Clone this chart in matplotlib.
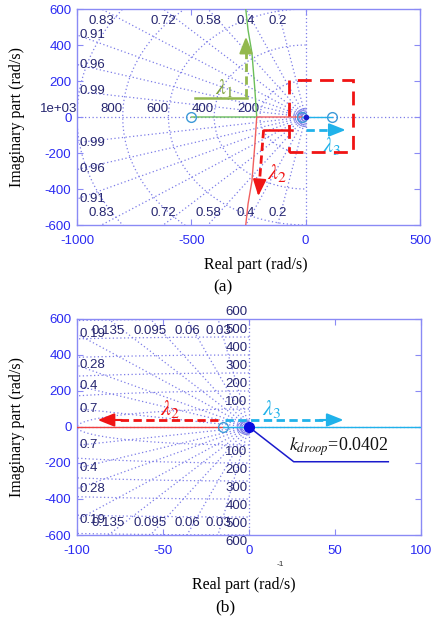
import numpy as np
import matplotlib.pyplot as plt
from matplotlib.path import Path
from matplotlib.patches import Rectangle

plt.rcParams['font.family'] = ['Liberation Sans', 'DejaVu Sans']
plt.rcParams['mathtext.fontset'] = 'stix'
plt.rcParams['axes.unicode_minus'] = False

# ---- grid values (damping ratio lines / natural frequency circles)
zeta_a = [0.2, 0.4, 0.58, 0.72, 0.83, 0.91, 0.96, 0.99]
wn_a = [200, 400, 600, 800, 1000]
wn_a_text = ['200', '400', '600', '800', '1e+03']
zeta_b = [0.03, 0.06, 0.095, 0.135, 0.19, 0.28, 0.4, 0.7]
wn_b = [100, 200, 300, 400, 500, 600]
wn_b_text = ['100', '200', '300', '400', '500', '600']

# ---- root locus branches
lam1_re = [-500, -214, -223, -235, -252, -262]
lam1_im = [0, 0, 167, 356, 483, 600]
lam2_re = [-15, -214, -223, -235, -252, -262]
lam2_im = [0, 0, -167, -356, -483, -600]
lam3_re = [-15, 115]
lam3_im = [0, 0]
zeros_re = [-500, -15, 115]
zeros_im = [0, 0, 0]
kdroop_pt = (0, 0)
kdroop_text = r'$k_{droop}$=0.0402'

# ---- annotation arrows (start, tip)
arr_a = {
    'l1': ((-261, 110), (-261, 446)),
    'l2': ((-184, -72), (-207, -440)),
    'l3': ((0, -72), (175, -72)),
}
bracket_a = {
    'l1': ((-482, 104), (-258, 104)),
    'l2': ((-184, -72), (-60, -72)),
}
label_a = {'l1': (-358, 160), 'l2': (-127, -311), 'l3': (114, -160)}
box_a = (-71, -193, 277, 399)  # x, y, w, h

arr_b = {
    'l2': ((-18, 39), (-88, 39)),
    'l3': ((-14, 39), (55, 39)),
}
label_b = {'l2': (-46, 100), 'l3': (13, 100)}
kdroop_leader_re = [0, 26, 81]
kdroop_leader_im = [0, -193, -193]

GREEN_LINE = '#6cbf5a'
GREEN_ARR = '#93b84e'
RED = '#f01414'
CYAN = '#20b2ea'
GRID_C = '#7c7ce8'
GRID_TXT = '#262670'
TICK_C = '#2a2af2'
SPINE_C = '#8a8af5'
GRID_LS = (0, (1, 2))


def half_arc_marker(aspect):
    t = np.linspace(np.pi / 2, 3 * np.pi / 2, 40)
    return Path(np.column_stack([np.cos(t) * aspect, np.sin(t)]))


def sgrid(ax, zetas, wns, xmin, ymax):
    big = 1e5
    ax.axhline(0, ls=GRID_LS, color=GRID_C, lw=0.9, zorder=1)
    ax.axvline(0, ls=GRID_LS, color=GRID_C, lw=0.9, zorder=1)
    for z in zetas:
        s = np.sqrt(1 - z ** 2)
        for sg in (1, -1):
            ax.plot([0, -z * big], [0, sg * s * big], ls=GRID_LS, color=GRID_C,
                    lw=0.9, zorder=1)
            y_edge = s / z * (-xmin)
            if y_edge < ymax:
                ax.annotate(f'{z:g}', (xmin, sg * y_edge), xytext=(2, 0),
                            textcoords='offset points', ha='left', va='center',
                            color=GRID_TXT, fontsize=9.5, annotation_clip=False)
            else:
                x_edge = -ymax * z / s
                ax.annotate(f'{z:g}', (x_edge, sg * ymax), xytext=(0, -4 * sg),
                            textcoords='offset points', ha='center',
                            va='top' if sg > 0 else 'bottom',
                            color=GRID_TXT, fontsize=9.5, annotation_clip=False)
    th = np.linspace(np.pi / 2, 3 * np.pi / 2, 600)
    for w in wns:
        ax.plot(w * np.cos(th), w * np.sin(th), ls=GRID_LS, color=GRID_C,
                lw=0.9, zorder=1)


def style_axes(ax, xlim, xticks):
    ax.set_xlim(*xlim)
    ax.set_ylim(-600, 600)
    ax.set_xticks(xticks)
    ax.set_yticks(range(-600, 601, 200))
    ax.tick_params(direction='in', top=True, right=True, colors=SPINE_C,
                   labelcolor=TICK_C, labelsize=9.5, length=4, pad=4)
    ax.tick_params(axis='x', pad=7)
    for sp in ax.spines.values():
        sp.set_color(SPINE_C)
        sp.set_linewidth(1.0)
    ax.set_ylabel('Imaginary part (rad/s)', family='Liberation Serif',
                  fontsize=11.5)
    ax.yaxis.set_label_coords(-0.152, 0.5)


def dashed_arrow(ax, start, tip, color):
    (x0, y0), (x1, y1) = start, tip
    ax.plot([x0, x0 + 0.85 * (x1 - x0)], [y0, y0 + 0.85 * (y1 - y0)],
            ls=(0, (3, 1.6)), color=color, lw=2.0, zorder=5)
    ax.annotate('', xy=tip, xytext=(x0 + 0.8 * (x1 - x0), y0 + 0.8 * (y1 - y0)),
                arrowprops=dict(arrowstyle='-|>,head_length=1.0,head_width=0.4',
                                color=color, lw=1.5, shrinkA=0, shrinkB=0),
                zorder=5)


fig = plt.figure(figsize=(4.33, 6.22), dpi=100)
ax_a = fig.add_axes([77 / 433, 1 - 225 / 622, 343 / 433, 216 / 622])
ax_b = fig.add_axes([77 / 433, 1 - 535 / 622, 344 / 433, 216 / 622])

# ---------------- panel (a)
style_axes(ax_a, (-1000, 500), [-1000, -500, 0, 500])
sgrid(ax_a, zeta_a, wn_a, -1000, 600)
for w, t in zip(wn_a, wn_a_text):
    ax_a.annotate(t, (-w, 0), xytext=(0, 1.5), textcoords='offset points',
                  ha='right', va='bottom', color=GRID_TXT, fontsize=9.5,
                  annotation_clip=False)
for ms in [4, 7, 10, 13, 16]:
    ax_a.plot(0, 0, ls='none', marker=half_arc_marker(1.2), ms=ms, mfc='none',
              mec=GRID_C, mew=0.7, zorder=2)

ax_a.plot(lam1_re, lam1_im, color=GREEN_LINE, lw=1.0, zorder=3)
ax_a.plot(lam2_re, lam2_im, color='#f06060', lw=1.0, zorder=3)
ax_a.plot(lam3_re, lam3_im, color=CYAN, lw=1.0, zorder=3)
ax_a.plot(zeros_re, zeros_im, ls='none', marker='o', ms=7, mfc='none',
          mec='#3d9ad8', mew=1.0, zorder=4)
ax_a.plot(*kdroop_pt, ls='none', marker='o', ms=3, color='#1a1acc', zorder=4)

ax_a.plot(*zip(*bracket_a['l1']), color=GREEN_ARR, lw=1.8, zorder=5)
ax_a.plot(*zip(*bracket_a['l2']), color=RED, lw=1.8, zorder=5)
dashed_arrow(ax_a, *arr_a['l1'], GREEN_ARR)
dashed_arrow(ax_a, *arr_a['l2'], RED)
dashed_arrow(ax_a, *arr_a['l3'], CYAN)
ax_a.text(*label_a['l1'], r'$\lambda_1$', color='#7fa23e', fontsize=16,
          ha='center', va='center')
ax_a.text(*label_a['l2'], r'$\lambda_2$', color=RED, fontsize=16,
          ha='center', va='center')
ax_a.text(*label_a['l3'], r'$\lambda_3$', color=CYAN, fontsize=16,
          ha='center', va='center')
ax_a.add_patch(Rectangle(box_a[:2], box_a[2], box_a[3], fill=False,
                         ec=RED, lw=2.0, ls=(0, (5, 3)), zorder=6))
ax_a.set_xlabel('Real part (rad/s)', family='Liberation Serif', fontsize=11.5)
ax_a.xaxis.set_label_coords(0.52, -0.148)
fig.text(223 / 433, 1 - 287 / 622, '(a)', family='Liberation Serif',
         fontsize=12.5, ha='center', va='center')

# ---------------- panel (b)
style_axes(ax_b, (-100, 100), [-100, -50, 0, 50, 100])
sgrid(ax_b, zeta_b, wn_b, -100, 600)
for w, t in zip(wn_b, wn_b_text):
    ax_b.annotate(t, (0, w), xytext=(-1, 1), textcoords='offset points',
                  ha='right', va='bottom', color=GRID_TXT, fontsize=9.5,
                  annotation_clip=False)
    ax_b.annotate(t, (0, -w), xytext=(-1, -1), textcoords='offset points',
                  ha='right', va='top', color=GRID_TXT, fontsize=9.5,
                  annotation_clip=False)
for ms in [5, 8, 11, 14, 17]:
    ax_b.plot(0, 0, ls='none', marker=half_arc_marker(1.6), ms=ms, mfc='none',
              mec=GRID_C, mew=0.7, zorder=2)

ax_b.plot(lam2_re, lam2_im, color='#f04040', lw=1.0, zorder=3)
ax_b.plot(lam3_re, lam3_im, color=CYAN, lw=1.0, zorder=3)
ax_b.plot(zeros_re, zeros_im, ls='none', marker='o', ms=7, mfc='none',
          mec='#3d9ad8', mew=1.0, zorder=4)
ax_b.plot(kdroop_leader_re, kdroop_leader_im, color='#1a1acc', lw=1.1, zorder=4)
ax_b.plot(*kdroop_pt, ls='none', marker='o', ms=7, color='#0a0ae0', zorder=5)
dashed_arrow(ax_b, *arr_b['l2'], RED)
dashed_arrow(ax_b, *arr_b['l3'], CYAN)
ax_b.text(*label_b['l2'], r'$\lambda_2$', color=RED, fontsize=16,
          ha='center', va='center')
ax_b.text(*label_b['l3'], r'$\lambda_3$', color=CYAN, fontsize=16,
          ha='center', va='center')
ax_b.text(52, -112, kdroop_text, family='Liberation Serif', fontsize=13,
          ha='center', va='center', color='#111111', zorder=6)
ax_b.set_xlabel('Real part (rad/s)', family='Liberation Serif', fontsize=11.5)
ax_b.xaxis.set_label_coords(0.484, -0.194)
fig.text(280 / 433, 1 - 565 / 622, '-1', fontsize=6, ha='center', va='center',
         color='#333333')
fig.text(225 / 433, 1 - 607 / 622, '(b)', family='Liberation Serif',
         fontsize=12.5, ha='center', va='center')

fig.savefig('out.png', dpi=100)
